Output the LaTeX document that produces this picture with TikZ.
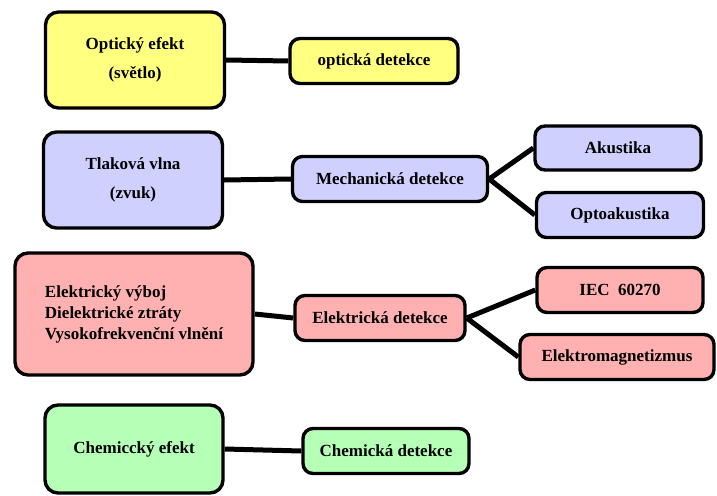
\documentclass[tikz,border=0pt]{standalone}
\usepackage{fontspec}
\setmainfont{Liberation Serif}[BoldFont={Liberation Serif Bold}]
\newfontfamily\boxfont{Liberation Serif Bold}
\definecolor{optyellow}{RGB}{255,255,128}
\definecolor{mechblue}{RGB}{208,208,255}
\definecolor{elred}{RGB}{255,176,176}
\definecolor{chemgreen}{RGB}{182,255,182}
\begin{document}
\begin{tikzpicture}[x=1pt, y=-1pt,
    every node/.style={font=\boxfont\fontsize{17}{21}\selectfont},
    effect/.style={draw, line width=3.4pt, rounded corners=13pt, align=center},
    detect/.style={draw, line width=3.4pt, rounded corners=10pt, minimum height=45pt},
    link/.style={line width=5pt}]
    \useasboundingbox (0,0) rectangle (717,495);

    % Optical branch
    \node[effect, fill=optyellow, minimum width=179pt, minimum height=96pt] (optic) at (135,60) {Optický efekt \\[8pt] (světlo)};
    \node[detect, fill=optyellow, minimum width=168pt] (opticdet) at (374,61) {optická detekce};
    \draw[link] (optic.east) -- (opticdet.west);

    % Mechanical branch
    \node[effect, fill=mechblue, minimum width=179pt, minimum height=96pt] (wave) at (133,180) {Tlaková vlna \\[8pt] (zvuk)};
    \node[detect, fill=mechblue, minimum width=195pt] (mechdet) at (390,179) {Mechanická detekce};
    \node[detect, fill=mechblue, minimum width=166pt, minimum height=44pt] (acoustic) at (618,148) {Akustika};
    \node[detect, fill=mechblue, minimum width=167pt] (optoacoustic) at (620,215) {Optoakustika};
    \draw[link] (wave.east) -- (mechdet.west);
    \draw[link] (mechdet.east) -- (acoustic.west);
    \draw[link] (mechdet.east) -- (optoacoustic.west);

    % Electrical branch
    \node[effect, fill=elred, align=left, minimum width=238pt, minimum height=122pt] (discharge) at (134,314) {Elektrický výboj \\ Dielektrické ztráty \\ Vysokofrekvenční vlnění};
    \node[detect, fill=elred, minimum width=170pt] (eldet) at (380,318) {Elektrická detekce};
    \node[detect, fill=elred, minimum width=166pt] (iec) at (620,290) {IEC\ \ 60270};
    \node[detect, fill=elred, minimum width=194pt] (emag) at (617,357) {Elektromagnetizmus};
    \draw[link] (discharge.east) -- (eldet.west);
    \draw[link] (eldet.east) -- (iec.west);
    \draw[link] (eldet.east) -- (emag.west);

    % Chemical branch
    \node[effect, fill=chemgreen, minimum width=178pt, minimum height=88pt] (chem) at (134,449) {Chemicck\'{y} efekt};
    \node[detect, fill=chemgreen, minimum width=166pt] (chemdet) at (386,451) {Chemická detekce};
    \draw[link] (chem.east) -- (chemdet.west);
\end{tikzpicture}
\end{document}
